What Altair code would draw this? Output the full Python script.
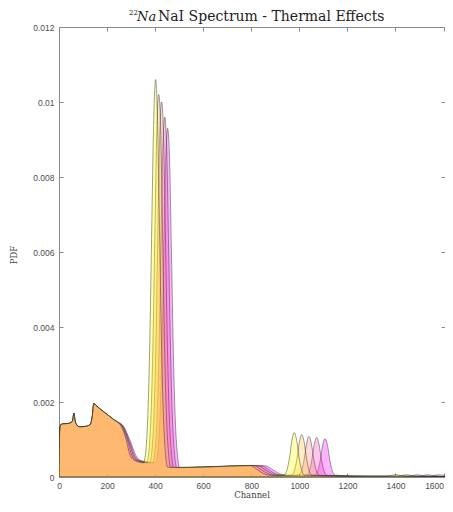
import altair as alt
import pandas as pd

# ---- data ----
low_ch = [0, 3, 8, 20, 40, 52, 57, 62, 67, 75, 85, 110, 130, 138, 145, 152, 170, 190, 210, 230, 245]
low_pdf = [0, 0.00125, 0.0014, 0.00142, 0.00143, 0.00146, 0.00152, 0.0017, 0.0015, 0.00138, 0.00134,
           0.00135, 0.0014, 0.0016, 0.00196, 0.00192, 0.00182, 0.00172, 0.00162, 0.00152, 0.00146]

ch_1 = [256, 277, 297, 318, 352, 362, 370, 378, 386, 394, 402, 410, 418, 426, 434, 442, 452, 550, 650,
        795, 820, 845, 870, 900, 937, 949, 959, 969, 979, 989, 999, 1009, 1021, 1100, 1200, 1300,
        1360, 1380, 1400, 1420, 1440, 1500, 1606]
pdf_1 = [0.00138, 0.00105, 0.00056, 0.00043, 0.00038, 0.00076, 0.00172, 0.00366, 0.0067, 0.0095, 0.0106,
         0.0095, 0.0067, 0.0037, 0.0017, 0.0007, 0.00026, 0.00026, 0.00028, 0.00031, 0.00022, 0.00011,
         0.00005, 0.00004, 0.00005, 0.0002, 0.00051, 0.00097, 0.00118, 0.00097, 0.00051, 0.0002,
         0.00005, 0.00003, 0.00002, 0.00002, 0.00002, 0.00004, 0.00006, 0.00004, 0.00002, 0.00001, 0.00001]

ch_2 = [259, 282, 304, 325, 365, 375, 383, 391, 399, 407, 415, 423, 431, 439, 447, 455, 465, 560, 660,
        810, 836, 862, 888, 918, 968, 980, 990, 1000, 1010, 1020, 1030, 1040, 1052, 1130, 1230, 1330,
        1405, 1425, 1445, 1465, 1485, 1540, 1606]
pdf_2 = [0.00138, 0.00104, 0.00056, 0.00043, 0.00038, 0.00075, 0.00168, 0.00356, 0.00652, 0.00928, 0.0102,
         0.00928, 0.00652, 0.00356, 0.00165, 0.0007, 0.00025, 0.00026, 0.00028, 0.00031, 0.00022, 0.00011,
         0.00005, 0.00004, 0.00005, 0.00018, 0.00049, 0.00093, 0.00113, 0.00093, 0.00049, 0.00018,
         0.00005, 0.00003, 0.00002, 0.00002, 0.00002, 0.00004, 0.00006, 0.00004, 0.00002, 0.00001, 0.00001]

ch_3 = [262, 287, 311, 332, 377, 387, 395, 403, 411, 419, 427, 435, 443, 451, 459, 467, 477, 570, 670,
        825, 852, 879, 906, 936, 998, 1010, 1020, 1030, 1040, 1050, 1060, 1070, 1082, 1160, 1260, 1360,
        1450, 1470, 1490, 1510, 1530, 1580, 1606]
pdf_3 = [0.00137, 0.00101, 0.00055, 0.00043, 0.00038, 0.00074, 0.00165, 0.0035, 0.0064, 0.0091, 0.0100,
         0.0091, 0.0064, 0.0035, 0.0016, 0.0007, 0.00025, 0.00026, 0.00028, 0.00031, 0.00022, 0.00011,
         0.00005, 0.00004, 0.00005, 0.00018, 0.00047, 0.00089, 0.00108, 0.00089, 0.00047, 0.00018,
         0.00005, 0.00003, 0.00002, 0.00002, 0.00002, 0.00004, 0.00006, 0.00004, 0.00002, 0.00001, 0.00001]

ch_4 = [265, 292, 318, 339, 390, 400, 408, 416, 424, 432, 440, 448, 456, 464, 472, 480, 490, 580, 680,
        842, 869, 896, 923, 953, 1030, 1042, 1052, 1062, 1072, 1082, 1092, 1102, 1114, 1190, 1290, 1390,
        1495, 1515, 1535, 1555, 1575, 1595, 1606]
pdf_4 = [0.00137, 0.00098, 0.00053, 0.00043, 0.00038, 0.00072, 0.0016, 0.00337, 0.00616, 0.00875, 0.0096,
         0.00875, 0.00616, 0.00337, 0.00155, 0.00067, 0.00025, 0.00026, 0.00028, 0.0003, 0.00021, 0.0001,
         0.00005, 0.00004, 0.00005, 0.00017, 0.00046, 0.00087, 0.00105, 0.00087, 0.00046, 0.00017,
         0.00005, 0.00003, 0.00002, 0.00002, 0.00002, 0.00004, 0.00006, 0.00004, 0.00002, 0.00001, 0.00001]

ch_5 = [268, 297, 325, 346, 402, 412, 420, 428, 436, 444, 452, 460, 468, 476, 484, 492, 502, 590, 690,
        858, 886, 914, 942, 970, 1065, 1077, 1087, 1097, 1107, 1117, 1127, 1137, 1149, 1220, 1320, 1420,
        1540, 1560, 1580, 1595, 1606]
pdf_5 = [0.00136, 0.00095, 0.00052, 0.00043, 0.00038, 0.0007, 0.00156, 0.00327, 0.00597, 0.00848, 0.0093,
         0.00848, 0.00597, 0.00327, 0.0015, 0.00066, 0.00025, 0.00026, 0.00028, 0.0003, 0.00021, 0.0001,
         0.00005, 0.00004, 0.00005, 0.00017, 0.00045, 0.00085, 0.00102, 0.00085, 0.00045, 0.00017,
         0.00005, 0.00003, 0.00002, 0.00002, 0.00002, 0.00004, 0.00006, 0.00005, 0.00004]

series_names = ["T1", "T2", "T3", "T4", "T5"]
series_colors = ["#ffff00", "#ffbf40", "#ff8080", "#ff40bf", "#ff00ff"]
x_ticks = [0, 200, 400, 600, 800, 1000, 1200, 1400, 1600]
y_ticks = [0, 0.002, 0.004, 0.006, 0.008, 0.01, 0.012]

rows = []
for name, chs, vals in zip(series_names, [ch_1, ch_2, ch_3, ch_4, ch_5],
                           [pdf_1, pdf_2, pdf_3, pdf_4, pdf_5]):
    for c, v in zip(low_ch + chs, low_pdf + vals):
        rows.append({"series": name, "channel": c, "pdf": v})
df = pd.DataFrame(rows)

W, H = 386, 450
xs = alt.Scale(domain=[0, 1606], nice=False, zero=False)
ys = alt.Scale(domain=[0, 0.012], nice=False)

AX = "#8a8a8a"
x_axis = alt.Axis(values=x_ticks, format="d", tickSize=4, offset=-4, domain=False, grid=False,
                  tickColor=AX, labelColor="#4d4d4d", labelFont="Liberation Sans", labelFontSize=8.5,
                  labelPadding=4, title=None,
                  labelAlign={"condition": {"test": "datum.value == 1600", "value": "right"}, "value": "center"})
y_axis = alt.Axis(values=y_ticks, format="~g", tickSize=4, offset=-4, domain=False, grid=False,
                  tickColor=AX, labelColor="#4d4d4d", labelFont="Liberation Sans", labelFontSize=8.5,
                  labelPadding=5, title=None)

area_layers = []
for name, color in reversed(list(zip(series_names, series_colors))):
    area_layers.append(
        alt.Chart(df).transform_filter(alt.datum.series == name)
        .mark_area(fill=color, fillOpacity=0.3, stroke="#2b2b2b", strokeOpacity=0.65,
                   strokeWidth=0.7, interpolate="monotone", clip=True)
        .encode(x=alt.X("channel:Q", scale=xs, axis=x_axis),
                y=alt.Y("pdf:Q", scale=ys, axis=y_axis))
    )
areas = alt.layer(*area_layers)

frame = alt.Chart(pd.DataFrame({"channel": [0], "pdf": [0]})).mark_point(opacity=0).encode(
    x=alt.X("channel:Q", scale=xs, axis=alt.Axis(orient="top", values=x_ticks, labels=False, tickSize=4,
                                                  offset=-4, domain=False, grid=False, tickColor=AX, title=None)),
    y=alt.Y("pdf:Q", scale=ys, axis=alt.Axis(orient="right", values=y_ticks, labels=False, tickSize=4,
                                              offset=-4, domain=False, grid=False, tickColor=AX, title=None)),
)

one = pd.DataFrame({"k": [0]})
SERIF = "DejaVu Serif"
t_sup = alt.Chart(one).mark_text(text="22", font=SERIF, fontSize=7, align="left",
                                 baseline="middle", color="#222").encode(x=alt.value(70), y=alt.value(-14))
t_na = alt.Chart(one).mark_text(text="Na", font=SERIF, fontSize=13, fontStyle="italic",
                                align="left", baseline="middle", color="#222").encode(x=alt.value(78), y=alt.value(-10))
t_rest = alt.Chart(one).mark_text(text="NaI Spectrum - Thermal Effects", font=SERIF, fontSize=14,
                                  align="left", baseline="middle", color="#222").encode(x=alt.value(99), y=alt.value(-10))
t_x = alt.Chart(one).mark_text(text="Channel", font=SERIF, fontSize=8.5, align="center",
                               baseline="alphabetic", color="#444").encode(x=alt.value(W / 2), y=alt.value(H + 20.5))
t_y = alt.Chart(one).mark_text(text="PDF", font=SERIF, fontSize=8.5, align="center", angle=270,
                               baseline="middle", color="#444").encode(x=alt.value(-45), y=alt.value(228))

chart = alt.layer(areas, frame, t_sup, t_na, t_rest, t_x, t_y).resolve_scale(
    x="independent", y="independent"
).properties(
    width=W, height=H,
    padding={"left": 51, "top": 19, "right": 0, "bottom": 23},
    autosize=alt.AutoSizeParams(type="none"),
    background="white",
).configure_view(stroke=AX, strokeWidth=1)

chart.save("out.html", embed_options={"renderer": "svg", "actions": False})
